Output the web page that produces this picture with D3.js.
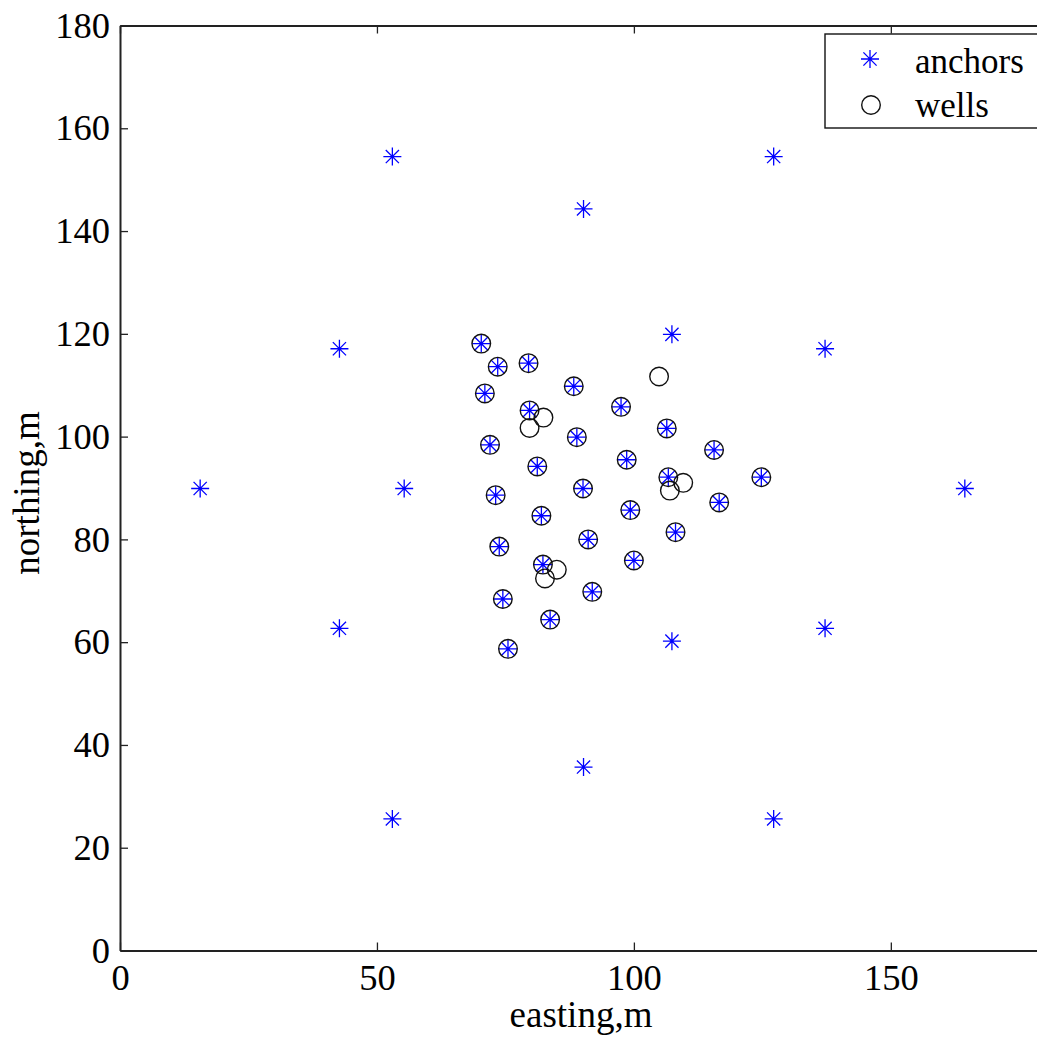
<!DOCTYPE html>
<html>
<head>
<meta charset="utf-8">
<script src="https://cdn.jsdelivr.net/npm/d3@7"></script>
<style>
  html, body { margin: 0; padding: 0; background: #fff; }
  svg { display: block; }
  text { font-family: "Liberation Serif", "Times New Roman", serif; fill: #000; }
</style>
</head>
<body>
<svg id="chart" width="1037" height="1037"></svg>
<script>
// Anchor positions (m)
const anchorsEasting = [
  53.0, 127.2, 90.2, 42.7, 137.2, 107.4, 15.6, 55.3, 164.4, 42.7, 137.2, 107.4, 90.2, 53.0, 127.2,
  70.3, 73.5, 79.5, 71.0, 88.3, 79.7, 97.5, 88.9, 106.4, 72.0, 81.2, 98.6, 115.6, 106.7, 124.8,
  73.1, 90.1, 99.3, 116.6, 82.0, 108.1, 73.8, 91.1, 100.0, 82.3, 74.5, 91.9, 83.7, 75.5
];
const anchorsNorthing = [
  154.5, 154.5, 144.3, 117.1, 117.1, 119.9, 89.9, 89.9, 89.9, 62.7, 62.7, 60.2, 35.7, 25.6, 25.6,
  118.1, 113.6, 114.3, 108.4, 109.8, 105.1, 105.8, 99.9, 101.6, 98.4, 94.2, 95.5, 97.4, 92.1, 92.1,
  88.6, 89.9, 85.7, 87.2, 84.6, 81.4, 78.6, 80.0, 75.9, 75.1, 68.4, 69.8, 64.4, 58.7
];

// Well positions (m)
const wellsEasting = [
  70.3, 73.5, 79.5, 71.0, 88.3, 79.7, 97.5, 88.9, 106.4, 72.0, 81.2, 98.6, 115.6, 106.7, 124.8,
  73.1, 90.1, 99.3, 116.6, 82.0, 108.1, 73.8, 91.1, 100.0, 82.3, 74.5, 91.9, 83.7, 75.5,
  104.9, 79.7, 82.4, 107.0, 109.6, 82.7, 85.0
];
const wellsNorthing = [
  118.1, 113.6, 114.3, 108.4, 109.8, 105.1, 105.8, 99.9, 101.6, 98.4, 94.2, 95.5, 97.4, 92.1, 92.1,
  88.6, 89.9, 85.7, 87.2, 84.6, 81.4, 78.6, 80.0, 75.9, 75.1, 68.4, 69.8, 64.4, 58.7,
  111.7, 101.7, 103.7, 89.5, 91.0, 72.4, 74.1
];

const xTicks = [0, 50, 100, 150];
const yTicks = [0, 20, 40, 60, 80, 100, 120, 140, 160, 180];
const xDomain = [0, 180];
const yDomain = [0, 180];
const legendLabels = ["anchors", "wells"];

// Layout
const plotLeft = 120, plotTop = 25.5, plotSize = 925;
const svg = d3.select("#chart");

const x = d3.scaleLinear().domain(xDomain).range([plotLeft, plotLeft + plotSize]);
const y = d3.scaleLinear().domain(yDomain).range([plotTop + plotSize, plotTop]);

const axisColor = "#222";
const tickFont = 36.5;
const titleFont = 37;
const legendFont = 35;

function styleAxis(g) {
  g.selectAll("path.domain").attr("stroke", axisColor).attr("stroke-width", 2);
  g.selectAll(".tick line").attr("stroke", axisColor).attr("stroke-width", 1.3);
  g.selectAll(".tick text")
    .attr("font-family", "Liberation Serif, Times New Roman, serif")
    .attr("font-size", tickFont)
    .attr("fill", "#000");
}

// Bottom and left axes with inward ticks
svg.append("g")
  .attr("transform", `translate(0,${plotTop + plotSize})`)
  .call(d3.axisBottom(x).tickValues(xTicks).tickFormat(d3.format("d"))
    .tickSizeInner(-8).tickSizeOuter(0).tickPadding(14))
  .call(styleAxis);

svg.append("g")
  .attr("transform", `translate(${plotLeft},0)`)
  .call(d3.axisLeft(y).tickValues(yTicks).tickFormat(d3.format("d"))
    .tickSizeInner(-8).tickSizeOuter(0).tickPadding(10))
  .call(styleAxis);

// Top and right box edges with mirrored ticks
svg.append("g")
  .attr("transform", `translate(0,${plotTop})`)
  .call(d3.axisTop(x).tickValues(xTicks).tickFormat("")
    .tickSizeInner(-8).tickSizeOuter(0))
  .call(styleAxis);

svg.append("g")
  .attr("transform", `translate(${plotLeft + plotSize},0)`)
  .call(d3.axisRight(y).tickValues(yTicks).tickFormat("")
    .tickSizeInner(-8).tickSizeOuter(0))
  .call(styleAxis);

// Axis titles
svg.append("text")
  .attr("x", 581)
  .attr("y", 1027)
  .attr("text-anchor", "middle")
  .attr("font-size", titleFont)
  .text("easting,m");

svg.append("text")
  .attr("transform", "translate(39,493) rotate(-90)")
  .attr("text-anchor", "middle")
  .attr("font-size", titleFont)
  .text("northing,m");

// Star marker: plus plus diagonal cross
const starArm = 9, starDiag = 6.6;
const starPath =
  `M${-starArm},0L${starArm},0M0,${-starArm}L0,${starArm}` +
  `M${-starDiag},${-starDiag}L${starDiag},${starDiag}M${-starDiag},${starDiag}L${starDiag},${-starDiag}`;
const starColor = "#0000ff";
const circleR = 9.3;

const anchors = anchorsEasting.map((e, i) => ({ e, n: anchorsNorthing[i] }));
const wells = wellsEasting.map((e, i) => ({ e, n: wellsNorthing[i] }));

svg.append("g").selectAll("path")
  .data(anchors)
  .join("path")
  .attr("transform", d => `translate(${x(d.e)},${y(d.n)})`)
  .attr("d", starPath)
  .attr("fill", "none")
  .attr("stroke", starColor)
  .attr("stroke-width", 1.3);

svg.append("g").selectAll("circle")
  .data(wells)
  .join("circle")
  .attr("cx", d => x(d.e))
  .attr("cy", d => y(d.n))
  .attr("r", circleR)
  .attr("fill", "none")
  .attr("stroke", "#111")
  .attr("stroke-width", 1.4);

// Legend
const legend = svg.append("g");
legend.append("rect")
  .attr("x", 825).attr("y", 34)
  .attr("width", 260).attr("height", 94)
  .attr("fill", "#fff")
  .attr("stroke", "#111")
  .attr("stroke-width", 1.4);

legend.append("path")
  .attr("transform", "translate(870,59)")
  .attr("d", starPath)
  .attr("fill", "none")
  .attr("stroke", starColor)
  .attr("stroke-width", 1.3);

legend.append("circle")
  .attr("cx", 871).attr("cy", 105)
  .attr("r", circleR)
  .attr("fill", "none")
  .attr("stroke", "#111")
  .attr("stroke-width", 1.4);

legend.selectAll("text.lbl")
  .data(legendLabels)
  .join("text")
  .attr("class", "lbl")
  .attr("x", 915)
  .attr("y", (d, i) => 73 + i * 44)
  .attr("font-size", legendFont)
  .text(d => d);
</script>
</body>
</html>
